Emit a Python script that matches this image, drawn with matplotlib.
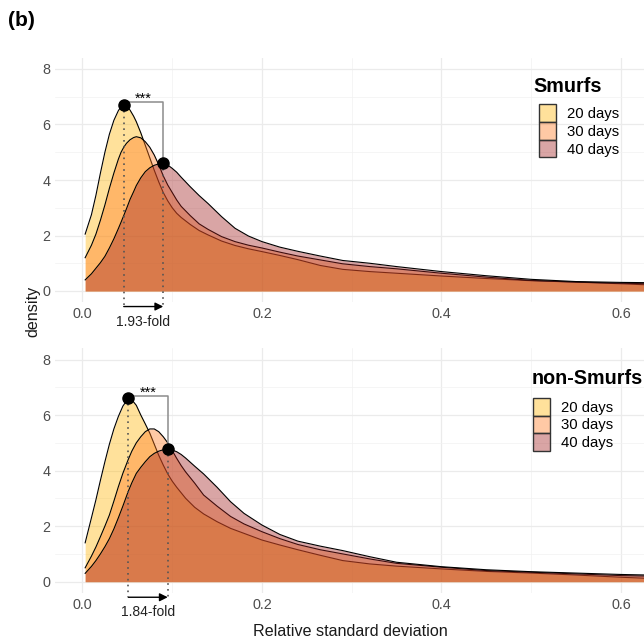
import numpy as np
import matplotlib.pyplot as plt
from matplotlib.patches import Patch
from matplotlib.colors import to_rgba

plt.rcParams['font.family'] = ['Liberation Sans', 'DejaVu Sans']

# values (relative SD vs density)
x_top = [0.003, 0.01, 0.015, 0.02, 0.025, 0.03, 0.035, 0.04, 0.043, 0.046, 0.049, 0.053,
         0.057, 0.06, 0.065, 0.07, 0.075, 0.08, 0.085, 0.09, 0.095, 0.10, 0.105, 0.11,
         0.12, 0.13, 0.14, 0.155, 0.17, 0.185, 0.2, 0.22, 0.24, 0.265, 0.29, 0.32,
         0.35, 0.4, 0.45, 0.5, 0.55, 0.6, 0.63]
smurf_20 = [2.05, 2.75, 3.45, 4.25, 5.00, 5.65, 6.15, 6.50, 6.64, 6.70, 6.67, 6.52,
            6.30, 6.10, 5.70, 5.25, 4.80, 4.35, 3.93, 3.55, 3.25, 3.00, 2.80, 2.65,
            2.40, 2.18, 2.02, 1.80, 1.64, 1.52, 1.42, 1.28, 1.13, 0.92, 0.78, 0.70,
            0.64, 0.54, 0.45, 0.37, 0.32, 0.26, 0.22]
smurf_30 = [1.20, 1.65, 2.05, 2.55, 3.10, 3.70, 4.25, 4.75, 5.00, 5.18, 5.32, 5.45,
            5.53, 5.56, 5.52, 5.38, 5.18, 4.90, 4.55, 4.15, 3.82, 3.55, 3.28, 3.05,
            2.72, 2.42, 2.22, 1.96, 1.78, 1.65, 1.55, 1.40, 1.26, 1.12, 0.98, 0.88,
            0.80, 0.64, 0.50, 0.38, 0.32, 0.28, 0.26]
smurf_40 = [0.40, 0.62, 0.82, 1.02, 1.25, 1.55, 1.88, 2.25, 2.48, 2.72, 2.96, 3.30,
            3.58, 3.80, 4.08, 4.30, 4.44, 4.53, 4.58, 4.60, 4.54, 4.42, 4.28, 4.10,
            3.76, 3.44, 3.15, 2.68, 2.26, 1.98, 1.78, 1.58, 1.43, 1.26, 1.10, 1.00,
            0.88, 0.70, 0.55, 0.42, 0.34, 0.31, 0.30]

x_bot = [0.003, 0.01, 0.015, 0.02, 0.025, 0.03, 0.035, 0.04, 0.045, 0.051, 0.055, 0.06,
         0.065, 0.07, 0.075, 0.08, 0.085, 0.09, 0.095, 0.10, 0.105, 0.11, 0.115, 0.125,
         0.135, 0.15, 0.165, 0.18, 0.2, 0.22, 0.24, 0.265, 0.29, 0.32, 0.35, 0.4,
         0.45, 0.5, 0.55, 0.6, 0.63]
non_20 = [1.40, 2.30, 2.95, 3.65, 4.32, 4.95, 5.50, 5.95, 6.32, 6.60, 6.55, 6.35,
          6.00, 5.68, 5.35, 4.95, 4.55, 4.20, 3.88, 3.62, 3.40, 3.20, 3.00, 2.68,
          2.44, 2.16, 1.92, 1.74, 1.50, 1.32, 1.15, 0.95, 0.76, 0.64, 0.56, 0.46,
          0.37, 0.31, 0.24, 0.16, 0.12]
non_30 = [0.50, 0.92, 1.25, 1.62, 2.00, 2.40, 2.90, 3.42, 3.90, 4.40, 4.70, 5.00,
          5.22, 5.40, 5.50, 5.50, 5.40, 5.22, 5.00, 4.72, 4.44, 4.18, 3.95, 3.55,
          3.12, 2.72, 2.35, 2.08, 1.80, 1.55, 1.34, 1.15, 1.00, 0.82, 0.66, 0.52,
          0.40, 0.34, 0.28, 0.22, 0.20]
non_40 = [0.30, 0.55, 0.76, 1.00, 1.26, 1.55, 1.90, 2.30, 2.72, 3.25, 3.56, 3.90,
          4.12, 4.32, 4.50, 4.62, 4.70, 4.75, 4.77, 4.74, 4.68, 4.58, 4.45, 4.16,
          3.88, 3.40, 2.88, 2.46, 2.04, 1.70, 1.46, 1.28, 1.12, 0.90, 0.70, 0.54,
          0.43, 0.36, 0.31, 0.26, 0.24]

groups = ['20 days', '30 days', '40 days']
colors = ['#FFB607', '#FF7820', '#A02020']
fill_alpha = 0.4
fold_labels = ['1.93-fold', '1.84-fold']
titles = ['Smurfs', 'non-Smurfs']

W, H = 644, 641
fig = plt.figure(figsize=(W / 100, H / 100), dpi=100)


def px_axes(left, top, right, bottom):
    return fig.add_axes([left / W, 1 - bottom / H, (right - left) / W, (bottom - top) / H])


ax_top = px_axes(55, 57.9, 647.9, 302.1)
ax_bot = px_axes(55, 348.4, 647.9, 592.8)

panels = [
    (ax_top, x_top, [smurf_20, smurf_30, smurf_40]),
    (ax_bot, x_bot, [non_20, non_30, non_40]),
]

for i, (ax, xs, series) in enumerate(panels):
    for ys, c in zip(series, colors):
        ax.fill_between(xs, 0, ys, color=c, alpha=fill_alpha, lw=0, zorder=2)
        ax.plot(xs, ys, color='black', lw=0.8, zorder=2, solid_joinstyle='round')

    ax.set_xlim(-0.0306, 0.63)
    ax.set_ylim(-0.4, 8.4)
    ax.set_xticks([0, 0.2, 0.4, 0.6])
    ax.set_xticklabels(['0.0', '0.2', '0.4', '0.6'])
    ax.set_xticks([0.1, 0.3, 0.5], minor=True)
    ax.set_yticks([0, 2, 4, 6, 8])
    ax.set_yticks([1, 3, 5, 7], minor=True)
    ax.grid(which='major', color='#EBEBEB', lw=0.9, zorder=0)
    ax.grid(which='minor', color='#F2F2F2', lw=0.5, zorder=0)
    ax.set_axisbelow(True)
    ax.tick_params(which='both', length=0, labelsize=10.4, labelcolor='#4D4D4D', pad=3.4)
    for s in ax.spines.values():
        s.set_visible(False)

    # peak markers of 20 days and 40 days
    y20, y40 = np.array(series[0]), np.array(series[2])
    px20, py20 = xs[int(np.argmax(y20))], y20.max()
    px40, py40 = xs[int(np.argmax(y40))], y40.max()
    ybr = py20 + 0.1
    ax.plot([px20, px40, px40], [ybr, ybr, py40], color='#8C8C8C', lw=1.1, zorder=4)
    ax.text((px20 + px40) / 2, ybr - 0.14, '***', ha='center', va='bottom',
            fontsize=10.5, zorder=5)
    ya = -0.56
    for xp, yp in [(px20, py20), (px40, py40)]:
        ax.plot([xp, xp], [yp, ya], color='#555555', lw=1.2,
                linestyle=(0, (1, 2.5)), zorder=4, clip_on=False)
    ax.plot([px20, px40], [py20, py40], 'o', color='black', ms=8, zorder=6, clip_on=False)
    ax.annotate('', xy=(px40, ya), xytext=(px20, ya),
                arrowprops=dict(arrowstyle='-|>', color='black', lw=1,
                                mutation_scale=12, shrinkA=0, shrinkB=0),
                annotation_clip=False)
    ax.text((px20 + px40) / 2, -1.1, fold_labels[i], ha='center', va='center',
            fontsize=10, color='#222222')

# legends
leg_pos = [(533, 87, 539, 104.5), (532, 378, 533, 398)]
for ax, t, (tx, ty, lx, ly) in zip([ax_top, ax_bot], titles, leg_pos):
    fig.text(tx / W, 1 - ty / H, t, fontsize=14.2, fontweight='bold', ha='left', va='center')
    hs = [Patch(facecolor=to_rgba(c, fill_alpha), edgecolor='#333333', lw=1) for c in colors]
    ax.legend(hs, groups, loc='upper left', bbox_to_anchor=(lx / W, 1 - ly / H),
              bbox_transform=fig.transFigure, frameon=False, fontsize=10.7,
              handlelength=1.14, handleheight=1.45, labelspacing=0.0,
              handletextpad=0.74, borderpad=0, borderaxespad=0)

fig.text(8 / W, 1 - 21 / H, '(b)', fontsize=15, fontweight='bold', ha='left', va='center')
fig.text(33 / W, 1 - 311 / H, 'density', fontsize=11.6, rotation=90, ha='center', va='center',
         color='#1A1A1A')
fig.text(350 / W, 1 - 632 / H, 'Relative standard deviation', fontsize=11.6,
         ha='center', va='center', color='#1A1A1A')

fig.savefig('out.png', dpi=100)
